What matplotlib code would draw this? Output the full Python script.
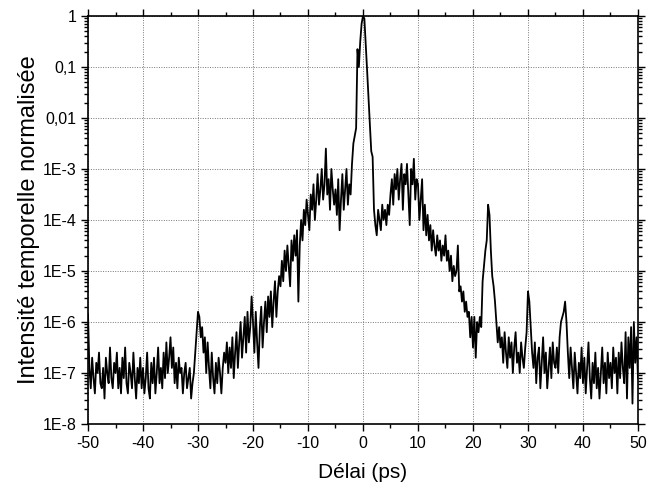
import numpy as np
import matplotlib
matplotlib.use("Agg")
import matplotlib.pyplot as plt
from matplotlib.ticker import FixedLocator, LogLocator, NullFormatter, MultipleLocator

plt.rcParams["font.family"] = ["Liberation Sans", "DejaVu Sans"]
plt.rcParams["axes.unicode_minus"] = False

# delay grid (ps), 0.25 ps sampling from -50 to 50
delay_start, delay_stop, n_points = -50.0, 50.0, 401

# log10 of the normalised intensity in 5 ps blocks
log_m50 = [-5.85, -6.9, -7.3, -6.7, -7.1, -7.4, -6.8, -7.0, -6.6, -7.2,
           -7.3, -6.9, -7.5, -6.7, -7.0, -7.2, -6.5, -7.1, -7.3, -6.8]
log_m45 = [-7.0, -6.6, -7.3, -6.9, -7.4, -6.7, -7.1, -6.5, -7.2, -7.4,
           -6.8, -7.0, -7.3, -6.6, -7.1, -7.5, -6.9, -7.2, -6.7, -7.3]
log_m40 = [-6.9, -7.4, -7.1, -6.6, -7.3, -7.5, -6.8, -7.2, -6.7, -7.4,
           -7.0, -6.5, -7.2, -6.9, -7.3, -6.6, -7.1, -6.4, -7.0, -6.7]
log_m35 = [-6.3, -6.9, -6.5, -7.2, -6.8, -7.3, -6.7, -7.0, -6.9, -7.4,
           -7.0, -6.8, -7.3, -7.1, -6.9, -7.5, -7.2, -7.0, -6.6, -6.2]
log_m30 = [-5.8, -5.9, -6.3, -6.1, -6.6, -6.3, -7.0, -6.4, -6.9, -7.3,
           -6.6, -7.1, -7.4, -6.8, -7.2, -6.7, -7.0, -7.4, -6.9, -6.6]
log_m25 = [-6.8, -6.4, -7.0, -6.5, -6.9, -6.3, -7.1, -6.6, -6.2, -6.9,
           -6.4, -6.0, -6.7, -6.3, -5.9, -6.6, -5.8, -6.4, -6.1, -5.5]
log_m20 = [-6.0, -6.6, -5.8, -6.4, -6.9, -6.1, -5.7, -6.5, -6.0, -5.6,
           -6.2, -5.5, -5.9, -5.4, -6.1, -5.6, -5.2, -5.9, -5.4, -5.1]
log_m15 = [-5.3, -4.8, -5.2, -4.6, -5.0, -4.5, -4.9, -5.3, -4.4, -4.8,
           -4.3, -4.7, -4.2, -5.6, -4.5, -4.0, -4.4, -3.8, -4.1, -3.6]
log_m10 = [-3.9, -4.2, -3.5, -3.8, -3.3, -4.0, -3.6, -3.1, -3.7, -3.4,
           -3.0, -3.6, -3.3, -2.6, -3.5, -3.2, -3.8, -3.0, -3.4, -3.7]
log_m05 = [-3.4, -3.9, -3.2, -4.2, -3.6, -3.1, -3.8, -3.4, -3.0, -3.7,
           -3.3, -3.5, -2.9, -2.5, -2.35, -2.2, -0.65, -1.0, -0.5, -0.15]
log_p00 = [0.0, -0.05, -0.55, -1.07, -1.6, -2.1, -2.65, -2.76, -3.8, -4.1,
           -4.3, -3.8, -4.0, -4.2, -3.7, -4.0, -3.8, -4.1, -3.7, -3.9]
log_p05 = [-3.5, -3.2, -3.7, -3.1, -3.4, -3.0, -3.6, -3.2, -2.9, -3.8,
           -3.1, -3.3, -2.9, -3.5, -4.1, -3.0, -3.3, -2.8, -3.6, -3.2]
log_p10 = [-3.3, -4.0, -3.6, -3.2, -4.2, -3.7, -4.3, -3.9, -4.4, -4.1,
           -4.6, -4.2, -4.5, -4.7, -4.3, -4.6, -4.4, -4.8, -4.5, -4.7]
log_p15 = [-4.3, -4.8, -4.6, -5.0, -4.7, -5.2, -4.9, -5.1, -5.0, -4.5,
           -5.4, -5.3, -5.6, -5.4, -5.8, -5.6, -5.9, -5.8, -6.3, -5.9]
log_p20 = [-6.5, -5.9, -6.7, -6.0, -6.2, -5.9, -6.1, -5.2, -4.9, -4.6,
           -4.4, -3.7, -3.9, -4.6, -5.1, -5.3, -5.6, -6.0, -6.4, -6.1]
log_p25 = [-6.5, -6.3, -6.8, -6.2, -6.6, -6.9, -6.3, -6.7, -6.4, -7.0,
           -6.5, -6.2, -6.8, -6.6, -7.0, -6.4, -6.7, -6.9, -6.5, -6.2]
log_p30 = [-5.4, -5.6, -6.1, -6.6, -6.9, -6.4, -7.2, -6.7, -6.5, -7.3,
           -6.8, -6.3, -7.0, -6.6, -7.3, -6.9, -6.5, -7.1, -6.4, -6.8]
log_p35 = [-6.9, -6.5, -7.0, -6.3, -6.0, -5.9, -5.8, -5.6, -6.0, -6.6,
           -7.1, -6.5, -6.9, -7.3, -6.6, -7.0, -7.4, -6.8, -7.1, -6.5]
log_p40 = [-7.2, -6.7, -7.4, -6.9, -6.4, -7.1, -7.5, -6.8, -7.2, -6.6,
           -7.3, -6.9, -7.5, -7.0, -6.5, -7.2, -6.8, -7.4, -6.6, -7.1]
log_p45 = [-6.8, -7.3, -6.5, -7.0, -6.7, -7.4, -6.6, -7.1, -6.4, -6.9,
           -7.2, -6.2, -7.5, -6.3, -6.9, -6.1, -7.6, -6.0, -6.8, -6.3]
log_p50 = [-7.1]

x_ticks = [-50, -40, -30, -20, -10, 0, 10, 20, 30, 40, 50]
y_ticks = [1, 0.1, 0.01, 1e-3, 1e-4, 1e-5, 1e-6, 1e-7, 1e-8]
y_labels = ["1", "0,1", "0,01", "1E-3", "1E-4", "1E-5", "1E-6", "1E-7", "1E-8"]

log_intensity = np.array(log_m50 + log_m45 + log_m40 + log_m35 + log_m30 + log_m25
                         + log_m20 + log_m15 + log_m10 + log_m05 + log_p00 + log_p05
                         + log_p10 + log_p15 + log_p20 + log_p25 + log_p30 + log_p35
                         + log_p40 + log_p45 + log_p50)
delay = np.linspace(delay_start, delay_stop, n_points)
intensity = 10.0 ** log_intensity

fig = plt.figure(figsize=(6.5, 4.94), dpi=100)
ax = fig.add_axes([0.1354, 0.1417, 0.8461, 0.8259])

ax.plot(delay, intensity, color="black", linewidth=1.3)

ax.set_yscale("log")
ax.set_xlim(-50, 50)
ax.set_ylim(1e-8, 1)

ax.xaxis.set_major_locator(FixedLocator(x_ticks))
ax.xaxis.set_minor_locator(MultipleLocator(5))
ax.yaxis.set_major_locator(FixedLocator(y_ticks))
ax.set_yticklabels(y_labels)
ax.yaxis.set_minor_locator(LogLocator(base=10, subs=np.arange(2, 10)))
ax.yaxis.set_minor_formatter(NullFormatter())

ax.tick_params(which="both", direction="out", top=True, right=True,
               labelsize=11.5, width=1.0)
ax.tick_params(which="major", length=5)
ax.tick_params(which="minor", length=3)
for s in ax.spines.values():
    s.set_linewidth(1.2)

ax.grid(True, which="major", color="#777777", linestyle=(0, (1, 1.5)), linewidth=0.7)

ax.set_xlabel("Délai (ps)", fontsize=15, labelpad=9)
ax.set_ylabel("Intensité temporelle normalisée", fontsize=17, labelpad=2)

fig.savefig("out.png", dpi=100)
